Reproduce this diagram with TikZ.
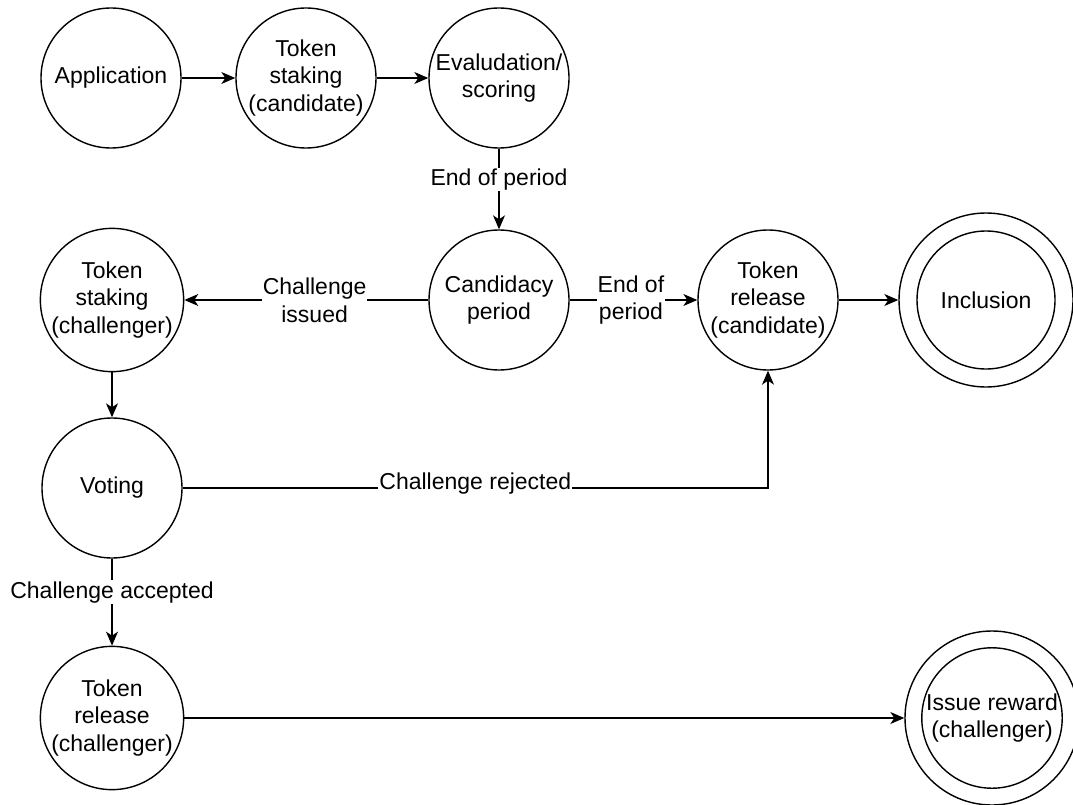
\documentclass[tikz,border=0pt]{standalone}
\usepackage{fontspec}
\setmainfont{Liberation Sans}
\usetikzlibrary{arrows.meta}
\begin{document}
\begin{tikzpicture}[x=1pt,y=-1pt,
  every node/.style={font=\fontsize{23}{27.6}\selectfont},
  state/.style={draw, circle, line width=1.4pt, minimum size=140pt, inner sep=0pt, align=center},
  inner/.style={draw, circle, line width=1.4pt, minimum size=138pt, inner sep=0pt, align=center},
  outer/.style={draw, circle, line width=1.4pt, minimum size=174pt, inner sep=0pt},
  conn/.style={line width=1.4pt, -{Stealth[length=14pt,width=12pt,inset=4pt]}},
  elabel/.style={fill=white, inner sep=1pt, align=center}]
\useasboundingbox (0,0) rectangle (1073,805);
\clip (0,0) rectangle (1073,805);
% nodes
\node[state] (app) at (111,78) {Application};
\node[state] (tsc) at (306,78) {Token\\staking\\(candidate)};
\node[state] (eval) at (499,78) {Evaludation/\\scoring};
\node[state] (cand) at (499,300) {Candidacy\\period};
\node[state] (tsch) at (112,300) {Token\\staking\\(challenger)};
\node[state] (trc) at (768,300) {Token\\release\\(candidate)};
\node[outer] (incl) at (986,300) {};
\node[inner] (incli) at (986,300) {Inclusion};
\node[state] (vot) at (112,488) {Voting};
\node[state] (trch) at (112,718) {Token\\release\\(challenger)};
\node[outer] (iss) at (992,718) {};
\node[inner] (issi) at (992,718) {Issue reward\\(challenger)};
% connectors
\draw[conn] (app) -- (tsc);
\draw[conn] (tsc) -- (eval);
\draw[conn] (eval) -- node[elabel, pos=0.38] {End of period} (cand);
\draw[conn] (cand) -- node[elabel, pos=0.466] {Challenge\\issued} (tsch);
\draw[conn] (cand) -- node[elabel, pos=0.48] {End of\\period} (trc);
\draw[conn] (trc) -- (incl);
\draw[conn] (tsch) -- (vot);
\draw[conn] (vot.east) -| node[elabel, pos=0.25, yshift=4pt] {Challenge rejected} (trc.south);
\draw[conn] (vot) -- node[elabel, pos=0.385] {Challenge accepted} (trch);
\draw[conn] (trch) -- (iss);
\end{tikzpicture}
\end{document}
